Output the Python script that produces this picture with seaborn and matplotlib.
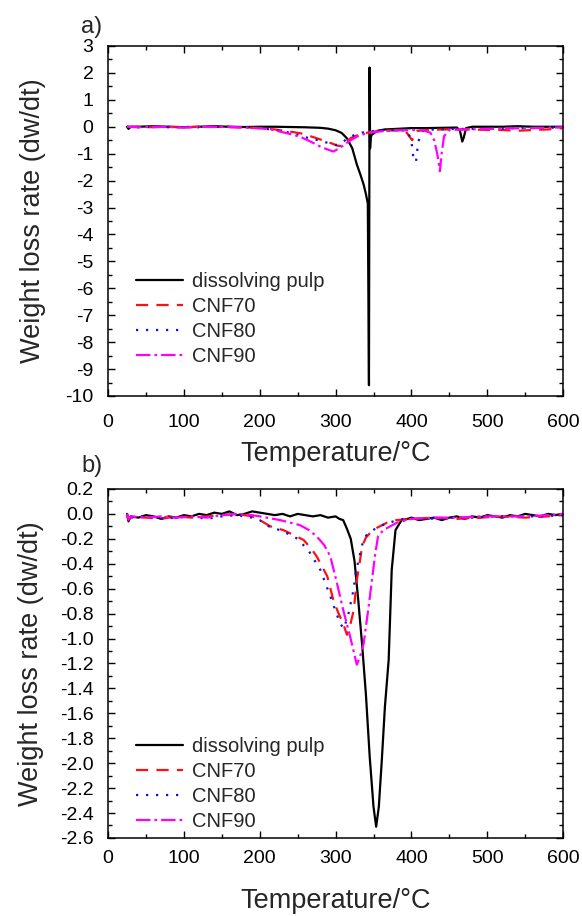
import matplotlib
matplotlib.use("Agg")
import matplotlib.pyplot as plt
from matplotlib.ticker import MultipleLocator, FormatStrFormatter
import seaborn as sns

# ---- panel a) data ----
pulp_a_T = [25, 27, 30, 40, 60, 80, 100, 120, 140, 160, 180, 200, 220, 240, 260, 280, 290, 300,
            308, 315, 322, 328, 333, 337, 340, 342.5, 344, 344.8, 345.5, 346.3, 347.5, 350, 355,
            365, 380, 400, 420, 440, 460, 464, 467, 469, 472, 480, 500, 520, 540, 560, 580, 600]
pulp_a_v = [0.0, -0.08, 0.0, 0.0, 0.02, 0.0, -0.02, 0.0, 0.02, 0.0, -0.01, 0.0, 0.0, -0.01, -0.02,
            -0.04, -0.07, -0.13, -0.23, -0.43, -0.8, -1.4, -1.8, -2.15, -2.5, -2.85, -9.6, 2.2,
            -0.8, -0.4, -0.3, -0.25, -0.15, -0.1, -0.08, -0.05, -0.05, -0.04, -0.03, -0.15, -0.55,
            -0.4, -0.05, 0.0, 0.0, 0.0, 0.02, 0.0, 0.0, 0.0]

cnf70_a_T = [25, 40, 60, 80, 100, 120, 140, 160, 180, 200, 220, 240, 255, 270, 285, 295, 302, 308,
             313, 320, 330, 345, 360, 380, 392, 397, 401, 404, 408, 420, 440, 460, 480, 500, 520,
             540, 560, 580, 600]
cnf70_a_v = [0.0, 0.0, -0.02, 0.0, -0.02, 0.0, 0.0, -0.02, -0.03, -0.05, -0.1, -0.18, -0.25, -0.38,
             -0.52, -0.62, -0.7, -0.72, -0.6, -0.42, -0.3, -0.2, -0.15, -0.13, -0.15, -0.35, -0.5,
             -0.3, -0.15, -0.12, -0.1, -0.1, -0.1, -0.12, -0.12, -0.15, -0.12, -0.1, -0.05]

cnf80_a_T = [25, 40, 60, 80, 100, 120, 140, 160, 180, 200, 220, 240, 257, 270, 283, 293, 300, 307,
             315, 325, 340, 360, 380, 395, 400, 403, 406, 409, 415, 430, 460, 490, 520, 550, 580, 600]
cnf80_a_v = [0.0, -0.02, 0.0, -0.02, 0.0, -0.02, 0.0, 0.0, -0.02, -0.05, -0.12, -0.22, -0.37, -0.45,
             -0.55, -0.62, -0.68, -0.62, -0.45, -0.3, -0.18, -0.14, -0.12, -0.15, -0.55, -1.25,
             -1.3, -0.55, -0.15, -0.1, -0.08, -0.08, -0.06, -0.05, -0.04, -0.02]

cnf90_a_T = [25, 40, 60, 80, 100, 120, 140, 160, 180, 200, 215, 227, 240, 253, 267, 280, 290, 297,
             305, 317, 328, 341, 360, 380, 400, 415, 425, 430, 434, 437.5, 440, 443, 450, 470, 500,
             530, 560, 600]
cnf90_a_v = [0.0, -0.02, 0.0, -0.01, -0.03, 0.0, -0.01, 0.0, -0.03, -0.06, -0.1, -0.18, -0.27,
             -0.37, -0.55, -0.74, -0.85, -0.92, -0.8, -0.55, -0.37, -0.23, -0.17, -0.14, -0.12,
             -0.13, -0.22, -0.5, -1.0, -1.65, -0.95, -0.35, -0.12, -0.1, -0.08, -0.06, -0.05, -0.02]

# ---- panel b) data ----
pulp_b_T = [25, 27, 30, 40, 50, 60, 70, 80, 90, 100, 110, 120, 130, 140, 150, 160, 170, 180, 190,
            200, 210, 220, 230, 240, 250, 260, 270, 280, 290, 300, 305, 310, 315, 320, 325, 330,
            335, 340, 345, 350, 353.5, 357, 361, 365, 370, 374, 379, 387, 395, 400, 410, 420, 430,
            440, 450, 460, 470, 480, 490, 500, 510, 520, 530, 540, 550, 560, 570, 580, 590, 600]
pulp_b_v = [0.0, -0.06, -0.02, -0.03, -0.01, -0.02, -0.04, -0.02, -0.03, -0.01, -0.02, 0.0, -0.01,
            0.01, 0.0, 0.02, -0.01, 0.0, 0.02, 0.01, 0.0, -0.01, 0.0, -0.02, 0.0, -0.01, -0.02,
            -0.01, -0.03, -0.02, -0.04, -0.05, -0.12, -0.2, -0.38, -0.7, -1.05, -1.45, -1.95,
            -2.35, -2.51, -2.35, -1.97, -1.55, -1.17, -0.45, -0.13, -0.05, -0.04, -0.03, -0.05,
            -0.04, -0.03, -0.05, -0.03, -0.02, -0.04, -0.02, -0.03, -0.01, -0.02, -0.03, -0.01,
            -0.02, 0.0, -0.01, -0.02, 0.0, -0.01, 0.0]

cnf70_b_T = [25, 27, 30, 50, 70, 90, 110, 130, 150, 170, 190, 200, 214, 231, 245, 258, 268, 275,
             282, 289, 297, 304, 310, 315, 319, 324, 328, 332, 335, 340, 346, 355, 368, 380, 400,
             430, 460, 490, 520, 550, 580, 600]
cnf70_b_v = [0.0, -0.05, -0.02, -0.03, -0.04, -0.02, -0.03, -0.02, -0.01, 0.0, -0.02, -0.05, -0.1,
             -0.13, -0.17, -0.21, -0.28, -0.34, -0.42, -0.5, -0.69, -0.8, -0.88, -0.97, -0.9,
             -0.77, -0.53, -0.38, -0.26, -0.19, -0.15, -0.11, -0.07, -0.05, -0.04, -0.03, -0.04,
             -0.03, -0.02, -0.03, -0.02, -0.01]

cnf80_b_T = [25, 27, 30, 50, 70, 90, 110, 130, 150, 170, 190, 200, 212, 231, 250, 265, 280, 293,
             300, 306, 311, 317, 324, 326, 330, 335, 339, 354, 370, 390, 420, 450, 480, 510, 540,
             570, 600]
cnf80_b_v = [0.0, -0.05, -0.03, -0.02, -0.04, -0.03, -0.02, -0.04, -0.02, -0.01, -0.03, -0.05,
             -0.1, -0.14, -0.2, -0.3, -0.45, -0.66, -0.78, -0.88, -0.92, -0.8, -0.6, -0.49, -0.38,
             -0.25, -0.18, -0.11, -0.07, -0.04, -0.04, -0.03, -0.03, -0.02, -0.02, -0.02, -0.01]

cnf90_b_T = [25, 27, 30, 50, 70, 90, 110, 130, 150, 170, 190, 200, 227, 253, 265, 275, 285, 293,
             302, 310, 319, 328, 333, 337, 343, 348, 352, 356, 363, 381, 400, 430, 460, 490, 520,
             550, 580, 600]
cnf90_b_v = [0.0, -0.04, -0.02, -0.03, -0.02, -0.03, -0.02, -0.03, -0.01, 0.0, -0.01, -0.02,
             -0.05, -0.09, -0.13, -0.18, -0.25, -0.34, -0.56, -0.77, -0.98, -1.21, -1.13, -1.04,
             -0.77, -0.53, -0.33, -0.18, -0.13, -0.07, -0.04, -0.03, -0.03, -0.02, -0.02, -0.02,
             -0.01, 0.0]

labels = ["dissolving pulp", "CNF70", "CNF80", "CNF90"]
colors = ["black", "#ff1010", "#1010e0", "#ff00ff"]
styles = ["-", (0, (5.5, 3.7)), (0, (1, 3.5)), (0, (6.5, 1.8, 1.2, 1.8))]

sns.set_style("ticks")
plt.rcParams["font.family"] = ["Liberation Sans", "DejaVu Sans"]
plt.rcParams["axes.unicode_minus"] = False

fig = plt.figure(figsize=(5.82, 9.16), dpi=100)
ax_a = fig.add_axes([0.1856, 0.5677, 0.782, 0.3821])
ax_b = fig.add_axes([0.1856, 0.0852, 0.782, 0.381])

panels = [
    (ax_a, [(pulp_a_T, pulp_a_v), (cnf70_a_T, cnf70_a_v), (cnf80_a_T, cnf80_a_v), (cnf90_a_T, cnf90_a_v)]),
    (ax_b, [(pulp_b_T, pulp_b_v), (cnf70_b_T, cnf70_b_v), (cnf80_b_T, cnf80_b_v), (cnf90_b_T, cnf90_b_v)]),
]

for ax, series in panels:
    for (T, v), lab, c, ls in zip(series, labels, colors, styles):
        sns.lineplot(x=T, y=v, ax=ax, color=c, linestyle=ls, linewidth=1.6,
                     label=lab, estimator=None, sort=False)
    ax.set_xlim(0, 600)
    ax.xaxis.set_major_locator(MultipleLocator(100))
    ax.xaxis.set_minor_locator(MultipleLocator(50))
    ax.tick_params(which="both", direction="in", top=True, right=True, width=1.0,
                   labelsize=14, colors="black")
    ax.tick_params(which="major", length=5)
    ax.tick_params(which="minor", length=3)
    ax.tick_params(axis="y", pad=10.5)
    for s in ax.spines.values():
        s.set_linewidth(1.1)
        s.set_color("black")
    ax.set_xlabel("Temperature/\u00b0C", fontsize=19.5)
    ax.set_ylabel("Weight loss rate (dw/dt)", fontsize=19.5)

ax_a.set_ylim(-10, 3)
ax_a.yaxis.set_major_locator(MultipleLocator(1))
ax_a.yaxis.set_minor_locator(MultipleLocator(0.5))
ax_a.tick_params(axis="x", pad=13)
ax_a.xaxis.labelpad = 7
ax_a.yaxis.labelpad = 14

ax_b.set_ylim(-2.6, 0.2)
ax_b.yaxis.set_major_locator(MultipleLocator(0.2))
ax_b.yaxis.set_minor_locator(MultipleLocator(0.1))
ax_b.yaxis.set_major_formatter(FormatStrFormatter("%.1f"))
ax_b.tick_params(axis="x", pad=9)
ax_b.xaxis.labelpad = 15
ax_b.yaxis.labelpad = 11

leg_kw = dict(loc="upper left", frameon=False, fontsize=14.5, handlelength=2.3,
              handletextpad=0.45, labelspacing=0.3, borderaxespad=0, borderpad=0)
ax_a.legend(bbox_to_anchor=(0.062, 0.355), **leg_kw)
ax_b.legend(bbox_to_anchor=(0.062, 0.29), **leg_kw)

fig.text(0.14, 0.970, "a)", fontsize=17, ha="left", va="center")
fig.text(0.14, 0.491, "b)", fontsize=17, ha="left", va="center")

fig.savefig("out.png", dpi=100)
